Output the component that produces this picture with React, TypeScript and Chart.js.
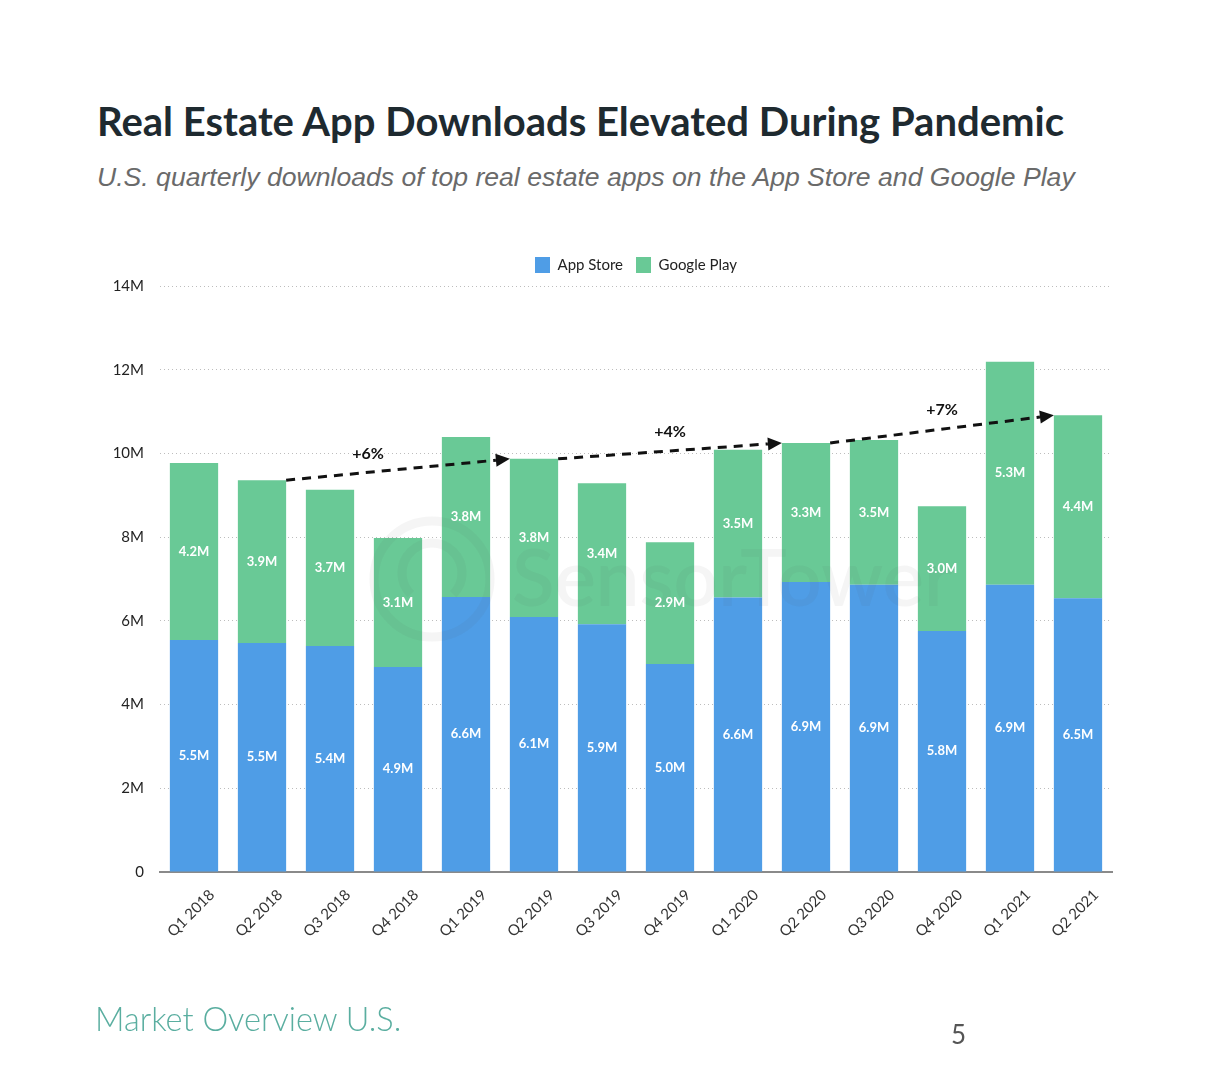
import React, { useEffect, useRef } from "react";
import { Chart, registerables } from "chart.js";
Chart.register(...registerables);

const categories = ["Q1 2018", "Q2 2018", "Q3 2018", "Q4 2018", "Q1 2019", "Q2 2019", "Q3 2019", "Q4 2019", "Q1 2020", "Q2 2020", "Q3 2020", "Q4 2020", "Q1 2021", "Q2 2021"];
const appStore = [5.54, 5.47, 5.4, 4.9, 6.57, 6.09, 5.92, 4.97, 6.56, 6.93, 6.86, 5.76, 6.86, 6.54];
const googlePlay = [4.23, 3.89, 3.73, 3.08, 3.82, 3.78, 3.37, 2.91, 3.53, 3.32, 3.46, 2.98, 5.33, 4.37];
const yTicks = [0, 2, 4, 6, 8, 10, 12, 14];
const trendFrom = [1, 5, 9];
const trendTo = [5, 9, 13];
const trendLabels = ["+6%", "+4%", "+7%"];

const BLUE = "#4f9de6";
const GREEN = "#69c996";
const FONT = "Lato, 'Open Sans', sans-serif";

const barLabelPlugin = {
  id: "barLabels",
  afterDatasetsDraw(chart: any) {
    const ctx = chart.ctx;
    ctx.save();
    ctx.font = `bold 13px ${FONT}`;
    ctx.fillStyle = "#ffffff";
    ctx.textAlign = "center";
    ctx.textBaseline = "middle";
    chart.data.datasets.forEach((ds: any, di: number) => {
      const meta = chart.getDatasetMeta(di);
      meta.data.forEach((bar: any, i: number) => {
        const y = (bar.y + bar.base) / 2;
        ctx.fillText(ds.data[i].toFixed(1) + "M", bar.x, y);
      });
    });
    ctx.restore();
  },
};

const watermarkPlugin = {
  id: "watermark",
  afterDatasetsDraw(chart: any) {
    const ctx = chart.ctx;
    const xs = chart.scales.x;
    const ys = chart.scales.y;
    ctx.save();
    ctx.globalAlpha = 0.06;
    ctx.strokeStyle = "#555";
    ctx.fillStyle = "#555";
    const cx = (xs.getPixelForValue(3) + xs.getPixelForValue(4)) / 2;
    const cy = ys.getPixelForValue(7);
    ctx.lineWidth = 9;
    ctx.beginPath();
    ctx.arc(cx, cy, 58, 0, Math.PI * 2);
    ctx.stroke();
    ctx.beginPath();
    ctx.arc(cx, cy - 6, 30, Math.PI * 0.75, Math.PI * 2.25);
    ctx.stroke();
    ctx.font = `600 78px ${FONT}`;
    ctx.textAlign = "left";
    ctx.textBaseline = "middle";
    ctx.fillText("SensorTower", cx + 80, cy + 2);
    ctx.restore();
  },
};

const trendPlugin = {
  id: "trend",
  afterDatasetsDraw(chart: any) {
    const ctx = chart.ctx;
    const ys = chart.scales.y;
    const meta = chart.getDatasetMeta(1);
    ctx.save();
    trendFrom.forEach((fi, k) => {
      const ti = trendTo[k];
      const fb = meta.data[fi];
      const tb = meta.data[ti];
      const x1 = fb.x + fb.width / 2;
      const y1 = ys.getPixelForValue(appStore[fi] + googlePlay[fi]);
      const x2 = tb.x - tb.width / 2;
      const y2 = ys.getPixelForValue(appStore[ti] + googlePlay[ti]);
      const ang = Math.atan2(y2 - y1, x2 - x1);
      const head = 14;
      const lx = x2 - head * Math.cos(ang);
      const ly = y2 - head * Math.sin(ang);
      ctx.strokeStyle = "#111";
      ctx.lineWidth = 3;
      ctx.setLineDash([9, 7]);
      ctx.beginPath();
      ctx.moveTo(x1, y1);
      ctx.lineTo(lx, ly);
      ctx.stroke();
      ctx.setLineDash([]);
      ctx.fillStyle = "#111";
      ctx.beginPath();
      ctx.moveTo(x2, y2);
      ctx.lineTo(lx + 6.5 * Math.sin(ang), ly - 6.5 * Math.cos(ang));
      ctx.lineTo(lx - 6.5 * Math.sin(ang), ly + 6.5 * Math.cos(ang));
      ctx.closePath();
      ctx.fill();
      const tx = (x1 + x2) / 2 - (k === 0 ? 30 : 0);
      const ty = y1 + ((tx - x1) / (x2 - x1)) * (y2 - y1) - 19;
      ctx.font = `bold 16px ${FONT}`;
      ctx.textAlign = "center";
      ctx.textBaseline = "middle";
      ctx.fillText(trendLabels[k], tx, ty);
    });
    ctx.restore();
  },
};

const legendGapPlugin = {
  id: "legendGap",
  beforeLayout(chart: any) {
    const lg = chart.legend;
    if (lg && !lg._gapPatched) {
      const orig = lg.fit.bind(lg);
      lg.fit = function () {
        orig();
        this.height += 3;
      };
      lg._gapPatched = true;
    }
  },
};

export default function App() {
  const ref = useRef<HTMLCanvasElement | null>(null);
  useEffect(() => {
    document.body.style.margin = "0";
    const chart = new Chart(ref.current as HTMLCanvasElement, {
      type: "bar",
      data: {
        labels: categories,
        datasets: [
          { label: "App Store", data: appStore, backgroundColor: BLUE, barPercentage: 0.71, categoryPercentage: 1 },
          { label: "Google Play", data: googlePlay, backgroundColor: GREEN, barPercentage: 0.71, categoryPercentage: 1 },
        ],
      },
      options: {
        responsive: false,
        animation: false,
        layout: { padding: { left: 90, right: 114, top: 244, bottom: 117 } },
        plugins: {
          legend: {
            position: "top",
            fullSize: false,
            labels: { boxWidth: 15, boxHeight: 16, padding: 13, color: "#222", font: { family: FONT, size: 15 } },
          },
          tooltip: { enabled: false },
        },
        scales: {
          x: {
            stacked: true,
            grid: { display: false },
            border: { display: true, color: "#8a8a8a", width: 2 },
            ticks: { color: "#333", font: { family: FONT, size: 15 }, maxRotation: 45, minRotation: 45, padding: 6, labelOffset: 18 },
            afterFit: (s: any) => { s.height = 90; },
          },
          y: {
            stacked: true,
            min: 0,
            max: 14,
            afterBuildTicks: (s: any) => { s.ticks = yTicks.map((v) => ({ value: v })); },
            border: { display: false, dash: [1, 3] },
            grid: {
              drawTicks: false,
              color: (c: any) => (c.tick && c.tick.value === 0 ? "rgba(0,0,0,0)" : "#bdbdbd"),
              lineWidth: 1,
            },
            ticks: {
              color: "#222",
              padding: 16,
              font: { family: FONT, size: 15 },
              callback: (v: any) => (v === 0 ? "0" : v + "M"),
            },
            afterFit: (s: any) => { s.width = 70; },
          },
        },
      } as any,
      plugins: [legendGapPlugin, watermarkPlugin, barLabelPlugin, trendPlugin],
    });
    return () => chart.destroy();
  }, []);
  return (
    <div style={{ position: "relative", width: 1226, height: 1079, background: "#fff", overflow: "hidden" }}>
      <div style={{ position: "absolute", left: 97, top: 96, fontFamily: FONT, fontWeight: 700, fontSize: 40, color: "#1e2a30", whiteSpace: "nowrap", lineHeight: "50px" }}>
        Real Estate App Downloads Elevated During Pandemic
      </div>
      <div style={{ position: "absolute", left: 97, top: 161, fontFamily: "'Liberation Sans', Arial, sans-serif", fontStyle: "italic", fontSize: 26.6, color: "#6a6a6a", whiteSpace: "nowrap", lineHeight: "32px" }}>
        U.S. quarterly downloads of top real estate apps on the App Store and Google Play
      </div>
      <canvas ref={ref} width={1226} height={1079} style={{ position: "absolute", left: 0, top: 0, width: 1226, height: 1079 }} />
      <div style={{ position: "absolute", left: 95, top: 999, fontFamily: FONT, fontWeight: 300, fontSize: 32.5, color: "#5aaea0", whiteSpace: "nowrap", lineHeight: "40px" }}>
        Market Overview U.S.
      </div>
      <div style={{ position: "absolute", left: 951, top: 1018, fontFamily: FONT, fontSize: 26, color: "#555", lineHeight: "32px" }}>
        5
      </div>
    </div>
  );
}
